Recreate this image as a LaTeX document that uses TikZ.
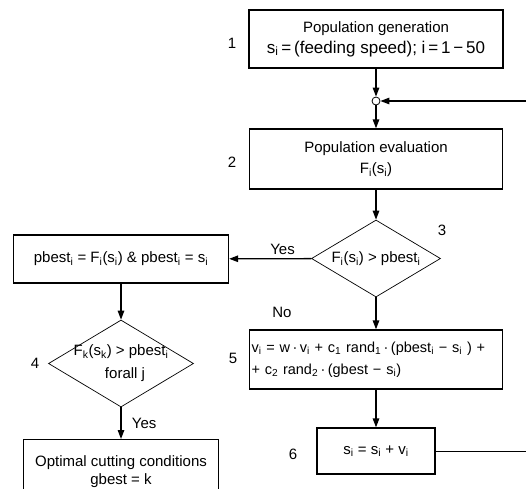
\documentclass[tikz,border=0pt]{standalone}
\usepackage{fontspec}
\setmainfont{Liberation Sans}
\usetikzlibrary{arrows.meta,shapes.geometric}
\newcommand{\ix}[1]{\textsubscript{#1}}

\begin{document}
\begin{tikzpicture}[
  x=1pt, y=1pt,
  font=\fontsize{15}{18}\selectfont,
  box/.style={draw,line width=1.3pt,align=center,inner sep=3pt},
  dia/.style={diamond,draw,line width=.7pt,align=center,inner sep=0pt,
              aspect=1.67},
  arr/.style={-{Triangle[length=9pt,width=6.5pt]},line width=1.3pt},
  feed/.style={line width=.8pt},
  tag/.style={inner sep=0pt}]

\clip (0,0) rectangle (526,-488);

\node[box,minimum width=254,minimum height=58] (gen) at (376,-39)
  {Population generation\\[3pt]
   {\fontsize{17}{18}\selectfont s\ix{i}\,=\,(feeding speed); i\,=\,1\,−\,50}};
\node[circle,draw,line width=.8pt,inner sep=0pt,minimum size=8pt,
      fill=white] (join) at (376,-101) {};
\node[box,minimum width=253,minimum height=60] (eval) at (376,-159)
  {Population evaluation\\[3pt] F\ix{i}(s\ix{i})};
\node[dia,minimum width=129,minimum height=77] (chk) at (376,-258.5)
  {F\ix{i}(s\ix{i}) > pbest\ix{i}};
\node[box,minimum width=215,minimum height=48] (pb) at (121,-259)
  {pbest\ix{i} = F\ix{i}(s\ix{i}) \& pbest\ix{i} = s\ix{i}};
\node[dia,minimum width=145,minimum height=87,inner sep=-14pt] (all) at (121,-363.5)
  {F\ix{k}(s\ix{k}) > pbest\ix{i}\\[5pt] \hspace{8pt}forall j};
\node[box,text width=249pt,inner xsep=2pt,align=left,minimum height=59,
      font=\fontsize{14.5}{18}\selectfont] (vel) at (376,-359.5)
  {\mbox{v\ix{i} = w\,·\,v\ix{i} + c\ix{1} rand\ix{1}\,·\,(pbest\ix{i} − s\ix{i}\,\,) +}\\[4pt]
   \mbox{+ c\ix{2} rand\ix{2}\,·\,(gbest − s\ix{i})}};
\node[box,minimum width=118,minimum height=46] (pos) at (376,-451)
  {s\ix{i} = s\ix{i} + v\ix{i}};
\node[box,minimum width=195,minimum height=64,anchor=north] (opt) at (121,-439)
  {Optimal cutting conditions\\ gbest = k};

% step numbers
\node[tag] (n1) at (232,-43)  {1};
\node[tag] (n2) at (232,-162) {2};
\node[tag] (n3) at (442,-230) {3};
\node[tag] (n4) at (35,-363)  {4};
\node[tag] (n5) at (233,-358) {5};
\node[tag] (n6) at (293,-454) {6};
\node[tag] (no) at (282,-312) {No};

\coordinate (back) at (526,-101);
\coordinate (out) at (526,-451);

\draw[arr] (gen) -- (join);
\draw[arr] (back) -- (join);
\draw[arr] (join) -- (eval);
\draw[arr] (eval) -- (chk);
\draw[arr] (chk) -- node[above,pos=.35] {Yes} (pb);
\draw[arr] (chk) -- (vel);
\draw[arr] (pb) -- (all);
\draw[arr] (all) -- node[right=7pt] {Yes} (opt);
\draw[arr] (vel) -- (pos);
\draw[feed] (pos) -- (out);
\end{tikzpicture}
\end{document}
